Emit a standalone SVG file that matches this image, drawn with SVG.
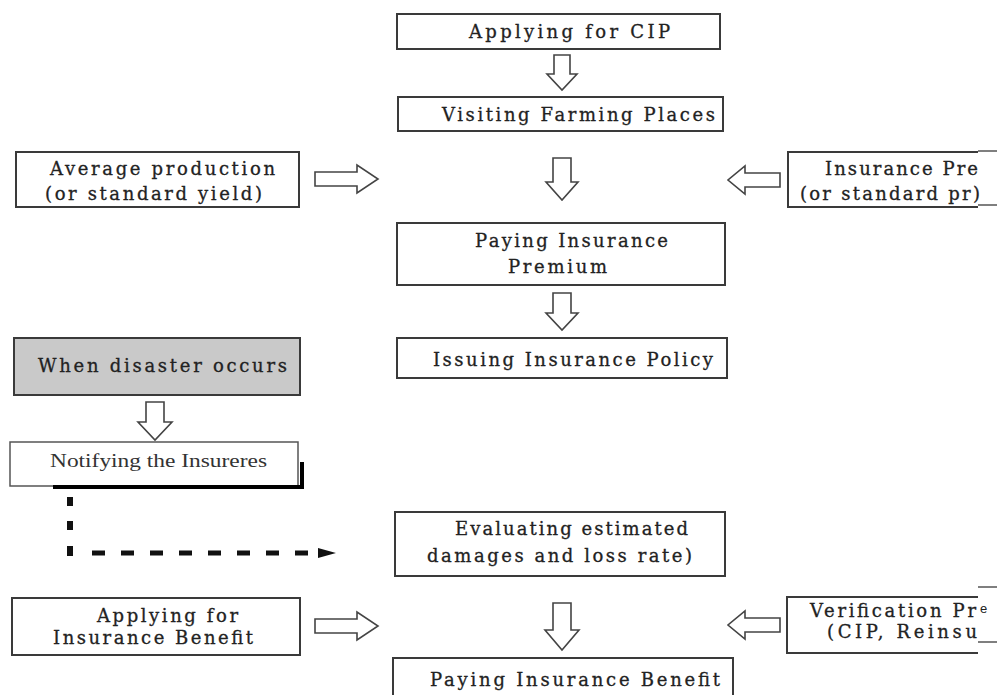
<svg xmlns="http://www.w3.org/2000/svg" width="997" height="695" viewBox="0 0 997 695">
<defs>
<style>
.box{fill:#fff;stroke:#3a3a3a;stroke-width:2}
.gray{fill:#c9c9c9;stroke:#3a3a3a;stroke-width:2}
.open{fill:none;stroke:#3a3a3a;stroke-width:2}
.t{font-family:"DejaVu Serif","Liberation Serif",serif;font-size:18px;fill:#222;stroke:#222;stroke-width:0.3}
.tn{font-family:"Liberation Serif","Times New Roman",serif;font-size:19px;fill:#333}
.arr{fill:#fff;stroke:#444;stroke-width:1.6;stroke-linejoin:miter}
.edge{stroke:#000;stroke-width:1.2;fill:none}
</style>
</defs>
<rect width="997" height="695" fill="#fff"/>

<g id="connectors">
<path class="arr" d="M554 55 H570 V74 H577 L562 90 L547 74 H554 Z"/>
<path class="arr" d="M553 158 H571 V182 H578 L562 200 L546 182 H553 Z"/>
<path class="arr" d="M553 293 H571 V313 H578 L562 330 L546 313 H553 Z"/>
<path class="arr" d="M146 402 H164 V422 H172 L155 440 L138 422 H146 Z"/>
<path class="arr" d="M553 603 H571 V630 H579 L562 650 L545 630 H553 Z"/>
<path class="arr" d="M315 172 H357 V165 L378 179 L357 193 V186 H315 Z"/>
<path class="arr" d="M315 619 H357 V612 L378 626 L357 640 V633 H315 Z"/>
<path class="arr" d="M780 173 H745 V166 L728 180 L745 194 V187 H780 Z"/>
<path class="arr" d="M780 618 H745 V611 L728 625 L745 639 V632 H780 Z"/>
<g fill="#111">
<rect x="67" y="497" width="6" height="9"/>
<rect x="67" y="521" width="6" height="9"/>
<rect x="67" y="546" width="6" height="10"/>
</g>
<path d="M92 553 H320" stroke="#111" stroke-width="5" stroke-dasharray="13 16" fill="none"/>
<path d="M318 548 L336 553 L318 558 Z" fill="#111"/>
</g>

<g id="applying-cip">
<rect class="box" x="397" y="14" width="323" height="35"/>
<text class="t" x="469" y="38" textLength="201" lengthAdjust="spacing">Applying for CIP</text>
</g>

<g id="visiting">
<rect class="box" x="398" y="97" width="325" height="34"/>
<text class="t" x="442" y="121" textLength="273" lengthAdjust="spacing">Visiting Farming Places</text>
</g>

<g id="average-production">
<rect class="box" x="16" y="152" width="283" height="55"/>
<text class="t" x="50" y="175" textLength="225" lengthAdjust="spacing">Average production</text>
<text class="t" x="45" y="200" textLength="217" lengthAdjust="spacing">(or standard yield)</text>
</g>

<g id="insurance-premium-rate">
<path class="open" d="M978 152 H788 V207 H978"/>
<path class="edge" d="M978 151 H997 M978 205 H997"/>
<text class="t" x="825" y="175" textLength="153" lengthAdjust="spacing">Insurance Pre</text>
<text class="t" x="800" y="200" textLength="180" lengthAdjust="spacing">(or standard pr)</text>
</g>

<g id="paying-premium">
<rect class="box" x="397" y="223" width="328" height="62"/>
<text class="t" x="475" y="247" textLength="193" lengthAdjust="spacing">Paying Insurance</text>
<text class="t" x="508" y="273" textLength="99" lengthAdjust="spacing">Premium</text>
</g>

<g id="issuing-policy">
<rect class="box" x="397" y="338" width="330" height="40"/>
<text class="t" x="433" y="366" textLength="280" lengthAdjust="spacing">Issuing Insurance Policy</text>
</g>

<g id="disaster">
<rect class="gray" x="14" y="338" width="286" height="57"/>
<text class="t" x="38" y="372" textLength="249" lengthAdjust="spacing">When disaster occurs</text>
</g>

<g id="notifying">
<rect x="10" y="442" width="288" height="44" fill="#fff" stroke="#555" stroke-width="1.5"/>
<path d="M53 487 H302 V462" fill="none" stroke="#000" stroke-width="4"/>
<text class="tn" x="50" y="467" textLength="217" lengthAdjust="spacingAndGlyphs">Notifying the Insureres</text>
</g>

<g id="evaluating">
<rect class="box" x="395" y="512" width="330" height="64"/>
<text class="t" x="455" y="535" textLength="233" lengthAdjust="spacing">Evaluating estimated</text>
<text class="t" x="427" y="562" textLength="265" lengthAdjust="spacing">damages and loss rate)</text>
</g>

<g id="applying-benefit">
<rect class="box" x="12" y="598" width="288" height="57"/>
<text class="t" x="97" y="622" textLength="141" lengthAdjust="spacing">Applying for</text>
<text class="t" x="53" y="644" textLength="200" lengthAdjust="spacing">Insurance Benefit</text>
</g>

<g id="verification">
<path class="open" d="M978 597 H787 V653 H978"/>
<path class="edge" d="M978 587 H997 M978 642 H997"/>
<text class="t" x="810" y="617" textLength="166" lengthAdjust="spacing">Verification Pr</text>
<text class="t" x="827" y="638" textLength="150" lengthAdjust="spacing">(CIP, Reinsu</text>
<text x="980" y="613" font-family="Liberation Sans, Arial, sans-serif" font-size="13" fill="#222">e</text>
</g>

<g id="paying-benefit">
<path class="open" d="M393 697 V658 H733 V697"/>
<text class="t" x="430" y="686" textLength="290" lengthAdjust="spacing">Paying Insurance Benefit</text>
</g>
</svg>
